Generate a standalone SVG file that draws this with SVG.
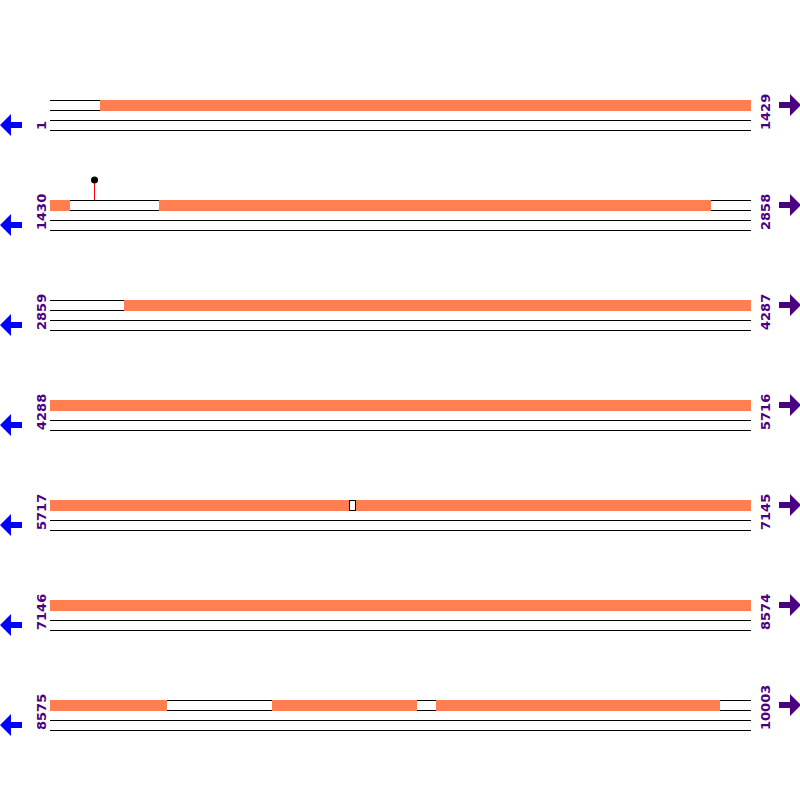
<svg xmlns="http://www.w3.org/2000/svg" width="800" height="800" viewBox="0 0 800 800">
<style>
.ln{stroke:#000;stroke-width:1;fill:none}
.ex{fill:#FF7F50}
.lbl{font-family:"DejaVu Sans",sans-serif;font-size:13px;font-weight:bold;fill:#4B0082}
.la{fill:#0000FF}
.ra{fill:#4B0082}
</style>
<defs>
<g id="track">
<line class="ln" x1="50" y1="100.5" x2="751" y2="100.5"/>
<line class="ln" x1="50" y1="110.5" x2="751" y2="110.5"/>
<line class="ln" x1="50" y1="120.5" x2="751" y2="120.5"/>
<line class="ln" x1="50" y1="130.5" x2="751" y2="130.5"/>
<polygon class="la" points="0,125 11,114 11,122 22,122 22,128 11,128 11,136"/>
<polygon class="ra" points="779,102 790,102 790,94 801,105 790,116 790,108 779,108"/>
</g>
</defs>
<rect width="800" height="800" fill="#fff"/>
<g id="row1">
<use href="#track"/>
<rect class="ex" x="100" y="100" width="651" height="11"/>
<text class="lbl" transform="translate(46,130) rotate(-90)">1</text>
<text class="lbl" transform="translate(770,130) rotate(-90)">1429</text>
</g>
<g id="row2" transform="translate(0,100)">
<use href="#track"/>
<rect class="ex" x="50" y="100" width="20" height="11"/>
<rect class="ex" x="159" y="100" width="552" height="11"/>
<line x1="94.5" y1="80" x2="94.5" y2="100" stroke="#FF0000" stroke-width="1"/>
<circle cx="94.5" cy="80" r="3.5" fill="#000"/>
<text class="lbl" transform="translate(46,130) rotate(-90)">1430</text>
<text class="lbl" transform="translate(770,130) rotate(-90)">2858</text>
</g>
<g id="row3" transform="translate(0,200)">
<use href="#track"/>
<rect class="ex" x="124" y="100" width="627" height="11"/>
<text class="lbl" transform="translate(46,130) rotate(-90)">2859</text>
<text class="lbl" transform="translate(770,130) rotate(-90)">4287</text>
</g>
<g id="row4" transform="translate(0,300)">
<use href="#track"/>
<rect class="ex" x="50" y="100" width="701" height="11"/>
<text class="lbl" transform="translate(46,130) rotate(-90)">4288</text>
<text class="lbl" transform="translate(770,130) rotate(-90)">5716</text>
</g>
<g id="row5" transform="translate(0,400)">
<use href="#track"/>
<rect class="ex" x="50" y="100" width="299" height="11"/>
<rect class="ex" x="355.5" y="100" width="395.5" height="11"/>
<rect x="349.5" y="100.5" width="6" height="10" fill="#fff" stroke="#000" stroke-width="1"/>
<text class="lbl" transform="translate(46,130) rotate(-90)">5717</text>
<text class="lbl" transform="translate(770,130) rotate(-90)">7145</text>
</g>
<g id="row6" transform="translate(0,500)">
<use href="#track"/>
<rect class="ex" x="50" y="100" width="701" height="11"/>
<text class="lbl" transform="translate(46,130) rotate(-90)">7146</text>
<text class="lbl" transform="translate(770,130) rotate(-90)">8574</text>
</g>
<g id="row7" transform="translate(0,600)">
<use href="#track"/>
<rect class="ex" x="50" y="100" width="117" height="11"/>
<rect class="ex" x="272" y="100" width="145" height="11"/>
<rect class="ex" x="436" y="100" width="284" height="11"/>
<text class="lbl" transform="translate(46,130) rotate(-90)">8575</text>
<text class="lbl" transform="translate(770,130) rotate(-90)">10003</text>
</g>
<g id="connectors"></g>
</svg>
